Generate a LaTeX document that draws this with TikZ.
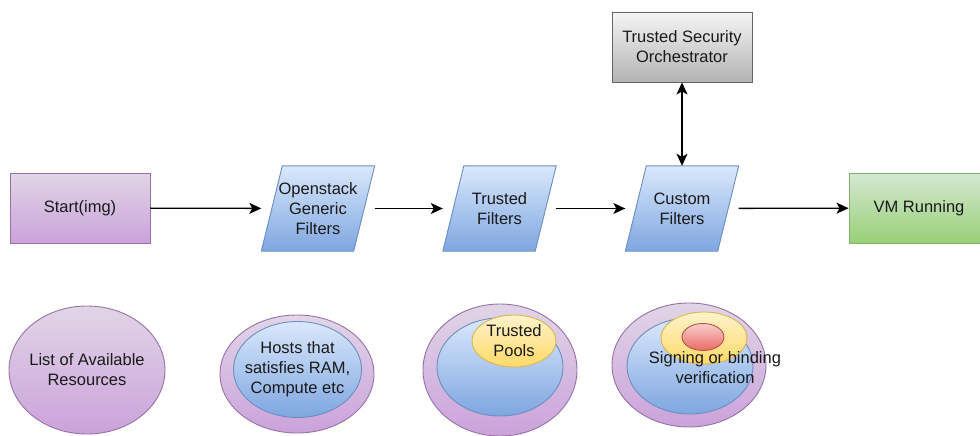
\documentclass[tikz,border=0pt]{standalone}
\usepackage{fontspec}
\setmainfont{Liberation Sans}
\usetikzlibrary{shapes.geometric,arrows.meta,backgrounds,calc}
\definecolor{purTop}{HTML}{E1D5E7}
\definecolor{purBot}{HTML}{CBA2DB}
\definecolor{purLine}{HTML}{9673A6}
\definecolor{bluTop}{HTML}{DAE8FC}
\definecolor{bluBot}{HTML}{7EA6E0}
\definecolor{bluLine}{HTML}{6C8EBF}
\definecolor{grnTop}{HTML}{D5E8D4}
\definecolor{grnBot}{HTML}{97D077}
\definecolor{grnLine}{HTML}{82B366}
\definecolor{gryTop}{HTML}{F5F5F5}
\definecolor{gryBot}{HTML}{B3B3B3}
\definecolor{gryLine}{HTML}{666666}
\definecolor{ylwTop}{HTML}{FFF2CC}
\definecolor{ylwBot}{HTML}{FFD966}
\definecolor{ylwLine}{HTML}{D6B656}
\definecolor{redTop}{HTML}{F8CECC}
\definecolor{redBot}{HTML}{EA6B66}
\definecolor{redLine}{HTML}{B85450}
\definecolor{txt}{HTML}{1A1A1A}
\tikzset{
  every node/.style={font=\fontsize{16.5}{20}\selectfont, text=txt, align=center, inner sep=0pt},
  every label/.style={font=\fontsize{16.5}{20}\selectfont, text=txt, align=center, inner sep=0pt, label distance=0pt},
  purbox/.style={rectangle, draw=purLine, line width=0.9pt, top color=purTop, bottom color=purBot, minimum width=140, minimum height=70},
  grnbox/.style={rectangle, draw=grnLine, line width=0.9pt, top color=grnTop, bottom color=grnBot, minimum width=140, minimum height=70},
  grybox/.style={rectangle, draw=gryLine, line width=0.9pt, top color=gryTop, bottom color=gryBot, minimum width=140, minimum height=70},
  parabox/.style={rectangle, minimum width=113, minimum height=85},
  parafill/.style={draw=bluLine, line width=0.9pt, top color=bluTop, bottom color=bluBot},
  purell/.style={ellipse, draw=purLine, line width=0.9pt, top color=purTop, bottom color=purBot},
  bluell/.style={ellipse, draw=bluLine, line width=0.9pt, top color=bluTop, bottom color=bluBot},
  ylwell/.style={ellipse, draw=ylwLine, line width=0.9pt, top color=ylwTop, bottom color=ylwBot},
  redell/.style={ellipse, draw=redLine, line width=0.9pt, top color=redTop, bottom color=redBot},
  flow/.style={line width=1.3pt, -{Stealth[length=12pt,width=11pt,inset=3pt]}},
  biflow/.style={line width=1.3pt, {Stealth[length=12pt,width=11pt,inset=3pt]}-{Stealth[length=12pt,width=11pt,inset=3pt]}}
}
\newcommand{\paraslant}{21}
\begin{document}
\begin{tikzpicture}[x=1pt,y=-1pt]
\useasboundingbox (0,0) rectangle (980,436);
\clip (0,0) rectangle (980,436);

% top row
\node[purbox] (start) at (80,208) {Start(img)};
\node[parabox] (osf) at (318,208.5) {Openstack\\Generic\\Filters};
\node[parabox] (tf) at (499.5,208.5) {Trusted\\Filters};
\node[parabox] (cf) at (682,208.5) {Custom\\Filters};
\node[grnbox] (vm) at (919,208) {VM Running};
\node[grybox] (tso) at (682,47) {Trusted Security\\Orchestrator};

\begin{scope}[on background layer]
\fill[white] (0,0) rectangle (980,436);
\foreach \n in {osf,tf,cf}{
  \path[parafill] (\n.south west) -- ($(\n.south east)+(-\paraslant,0)$) -- (\n.north east) -- ($(\n.north west)+(\paraslant,0)$) -- cycle;
}
\end{scope}

\draw[flow] (start) -- (osf);
\draw[flow] (osf) -- (tf);
\draw[flow] (tf) -- (cf);
\draw[flow] (cf) -- (vm);
\draw[biflow] (tso) -- (cf);

% bottom row
\node[purell, minimum width=156, minimum height=128, label={center:List of Available\\Resources}] (e1) at (87,370) {};

\node[purell, minimum width=154, minimum height=118] (e2o) at (297,374) {};
\node[bluell, minimum width=128, minimum height=96, label={center:Hosts that\\satisfies RAM,\\Compute etc}] (e2i) at (297.5,369.5) {};

\node[purell, minimum width=154, minimum height=132] (e3o) at (500,370) {};
\node[bluell, minimum width=126, minimum height=98] (e3i) at (500,367) {};
\node[ylwell, minimum width=84, minimum height=52, label={center:Trusted\\Pools}] (e3y) at (514,341) {};

\node[purell, minimum width=154, minimum height=124] (e4o) at (689,365) {};
\node[bluell, minimum width=126, minimum height=96] (e4i) at (690,366) {};
\node[ylwell, minimum width=86, minimum height=52] (e4y) at (704,338) {};
\node[redell, minimum width=42, minimum height=27] (e4r) at (703,337) {};
\node (e4t) at (715,367.5) {Signing or binding\\verification};
\end{tikzpicture}
\end{document}
